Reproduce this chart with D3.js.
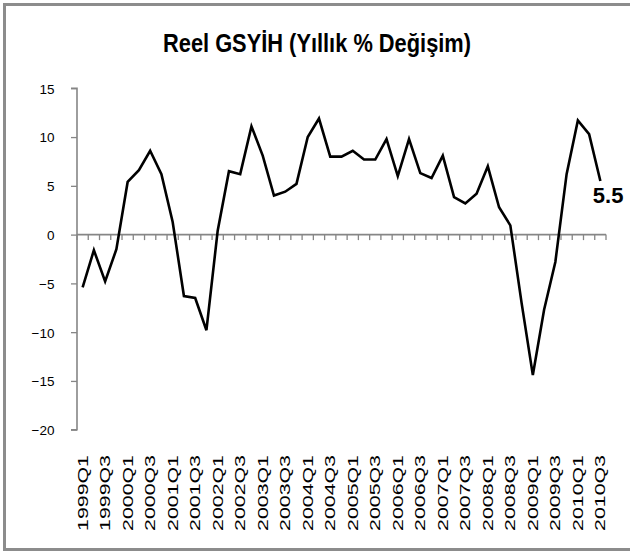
<!DOCTYPE html>
<html>
<head>
<meta charset="utf-8">
<script src="https://cdn.jsdelivr.net/npm/d3@7"></script>
<style>
  html, body { margin: 0; padding: 0; background: #fff; }
  svg { display: block; }
</style>
</head>
<body>
<svg id="chart" width="630" height="552"></svg>
<script>
const title = "Reel GSYİH (Yıllık % Değişim)";
const categories = [
  "1999Q1","1999Q2","1999Q3","1999Q4",
  "2000Q1","2000Q2","2000Q3","2000Q4",
  "2001Q1","2001Q2","2001Q3","2001Q4",
  "2002Q1","2002Q2","2002Q3","2002Q4",
  "2003Q1","2003Q2","2003Q3","2003Q4",
  "2004Q1","2004Q2","2004Q3","2004Q4",
  "2005Q1","2005Q2","2005Q3","2005Q4",
  "2006Q1","2006Q2","2006Q3","2006Q4",
  "2007Q1","2007Q2","2007Q3","2007Q4",
  "2008Q1","2008Q2","2008Q3","2008Q4",
  "2009Q1","2009Q2","2009Q3","2009Q4",
  "2010Q1","2010Q2","2010Q3"
];
const gdpGrowth = [
  -5.4, -1.6, -4.8, -1.5,
   5.4,  6.6,  8.6,  6.2,
   1.3, -6.3, -6.5, -9.8,
   0.4,  6.5,  6.2, 11.1,
   8.1,  4.0,  4.4,  5.2,
  10.0, 11.9,  8.0,  8.0,
   8.6,  7.7,  7.7,  9.8,
   6.0,  9.8,  6.3,  5.8,
   8.1,  3.85, 3.2,  4.2,
   7.0,  2.8,  0.95, -7.0,
 -14.4, -7.7, -2.8,  6.2,
  11.7, 10.3,  5.5
];
const yTicks = [-20, -15, -10, -5, 0, 5, 10, 15];
const lastLabel = "5.5";

const svg = d3.select("#chart");
const axisColor = "#868686";
const font = "Liberation Sans, Arial, sans-serif";

// outer frame
svg.append("rect")
  .attr("x", 4.5).attr("y", 4.5)
  .attr("width", 700).attr("height", 545)
  .attr("fill", "#fff")
  .attr("stroke", "#8c8c8c")
  .attr("stroke-width", 3);

const x = d3.scaleBand().domain(categories).range([77, 606]);
const y = d3.scaleLinear().domain([-20, 15]).range([429.7, 88.3]);

// title
svg.append("text")
  .attr("x", 317).attr("y", 52)
  .attr("text-anchor", "middle")
  .attr("font-family", font)
  .attr("font-weight", "bold")
  .attr("font-size", 26.5)
  .attr("textLength", 308)
  .attr("lengthAdjust", "spacingAndGlyphs")
  .attr("fill", "#000")
  .text(title);

// y axis
const yAxis = d3.axisLeft(y).tickValues(yTicks).tickSize(6).tickPadding(16.5)
  .tickFormat(d3.format("d"));
const gy = svg.append("g").attr("transform", "translate(77,0)").call(yAxis);
gy.select(".domain").attr("stroke", axisColor).attr("stroke-width", 1.6)
  .attr("d", `M-6,${y(15)}H0V${y(-20)}H-6`);
gy.selectAll(".tick line").attr("stroke", axisColor).attr("stroke-width", 1.3);
gy.selectAll(".tick text")
  .attr("font-family", font)
  .attr("font-size", 13.5)
  .attr("fill", "#000")
  .attr("dy", "0.36em");

// zero axis with boundary ticks
const zeroY = y(0);
const gx = svg.append("g");
gx.append("line")
  .attr("x1", x.range()[0]).attr("x2", x.range()[1])
  .attr("y1", zeroY).attr("y2", zeroY)
  .attr("stroke", axisColor).attr("stroke-width", 1.6);
const boundaries = categories.map(c => x(c)).concat([x.range()[1]]);
gx.selectAll("line.tk").data(boundaries).join("line")
  .attr("class", "tk")
  .attr("x1", d => d).attr("x2", d => d)
  .attr("y1", zeroY).attr("y2", zeroY + 5.5)
  .attr("stroke", axisColor).attr("stroke-width", 1.3);

// x labels (every other category)
svg.append("g").selectAll("text")
  .data(categories.filter((c, i) => i % 2 === 0))
  .join("text")
  .attr("transform", d => `translate(${x(d) + x.bandwidth() / 2 + 5},455) rotate(-90)`)
  .attr("text-anchor", "end")
  .attr("font-family", font)
  .attr("font-size", 14)
  .attr("textLength", 76)
  .attr("lengthAdjust", "spacingAndGlyphs")
  .attr("fill", "#000")
  .text(d => d);

// line
const line = d3.line()
  .x((d, i) => x(categories[i]) + x.bandwidth() / 2)
  .y(d => y(d));
svg.append("path")
  .datum(gdpGrowth)
  .attr("d", line)
  .attr("fill", "none")
  .attr("stroke", "#000")
  .attr("stroke-width", 2.6)
  .attr("stroke-linejoin", "miter");

// last value label
const lastIdx = gdpGrowth.length - 1;
svg.append("text")
  .attr("x", x(categories[lastIdx]) + x.bandwidth() / 2 - 7.5)
  .attr("y", y(gdpGrowth[lastIdx]) + 22.5)
  .attr("font-family", font)
  .attr("font-weight", "bold")
  .attr("font-size", 22)
  .attr("fill", "#000")
  .text(lastLabel);
</script>
</body>
</html>
